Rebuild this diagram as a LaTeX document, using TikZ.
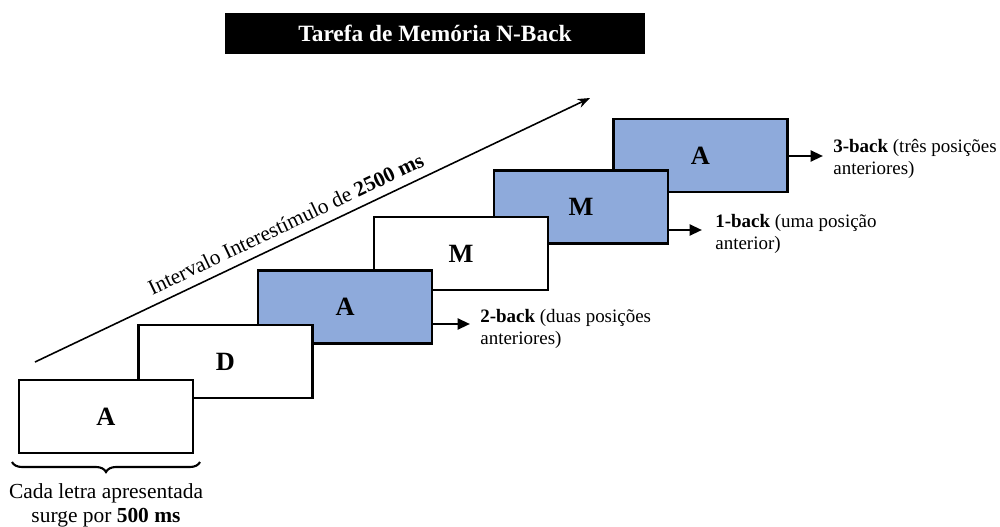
\documentclass[tikz,border=0pt]{standalone}
\usepackage{fontspec}
\setmainfont{Liberation Serif}
\usetikzlibrary{arrows.meta}
\usetikzlibrary{decorations.pathreplacing}

\definecolor{cardblue}{RGB}{142,170,219}

\begin{document}
\begin{tikzpicture}[>=Stealth, x=0.02cm, y=-0.02cm,
    card/.style={draw, line width=1.3pt, fill=white, minimum width=3.48cm, minimum height=1.46cm,
        font=\fontsize{15}{18}\selectfont\bfseries},
    hitcard/.style={card, fill=cardblue},
    backlabel/.style={anchor=west, inner sep=0pt, align=left, font=\fontsize{10.8}{12.5}\selectfont},
    backarrow/.style={-{Triangle[length=0.25cm, width=0.22cm]}, line width=1.4pt}]

    \useasboundingbox (0,0) rectangle (1000,527);

    % Title bar
    \node[fill=black, text=white, minimum width=8.4cm, minimum height=0.82cm,
        font=\fontsize{13.3}{16}\selectfont\bfseries] (title) at (435,33.5) {Tarefa de Memória N-Back};

    % Time arrow with the interstimulus interval
    \coordinate (t0) at (35,362);
    \coordinate (t1) at (590,98);
    \draw[->, line width=0.9pt] (t0) -- (t1)
        node[pos=0.465, sloped, above, inner sep=5pt, font=\fontsize{12.2}{14}\selectfont] (isi)
        {Intervalo Interestímulo de \textbf{2500 ms}};

    % Letter cards, back to front
    \node[hitcard] (c6) at (700.5,155.5) {A};
    \node[hitcard] (c5) at (581,207) {M};
    \node[card]    (c4) at (461,253.7) {M};
    \node[hitcard] (c3) at (345.2,307) {A};
    \node[card]    (c2) at (225.5,361.5) {D};
    \node[card]    (c1) at (106,416.5) {A};

    % N-back labels
    \coordinate (tip2) at (470,324);
    \coordinate (tip1) at (702,230);
    \coordinate (tip3) at (823,156);
    \node[backlabel] (lab2) at (480,329) {\textbf{2-back} (duas posições\\anteriores)};
    \node[backlabel] (lab1) at (715,234) {\textbf{1-back} (uma posição\\anterior)};
    \node[backlabel] (lab3) at (833,158.5) {\textbf{3-back} (três posições\\anteriores)};
    \draw[backarrow] (c3.east |- tip2) -- (tip2);
    \draw[backarrow] (c5.east |- tip1) -- (tip1);
    \draw[backarrow] (c6.east |- tip3) -- (tip3);

    % Duration of one letter
    \draw[decorate, decoration={brace, amplitude=0.2cm, mirror}, line width=1.2pt] (12,462) -- (200,462);
    \node[align=center, font=\fontsize{12.2}{13.8}\selectfont] (dur) at (106,505)
        {Cada letra apresentada\\surge por \textbf{500 ms}};

\end{tikzpicture}
\end{document}
